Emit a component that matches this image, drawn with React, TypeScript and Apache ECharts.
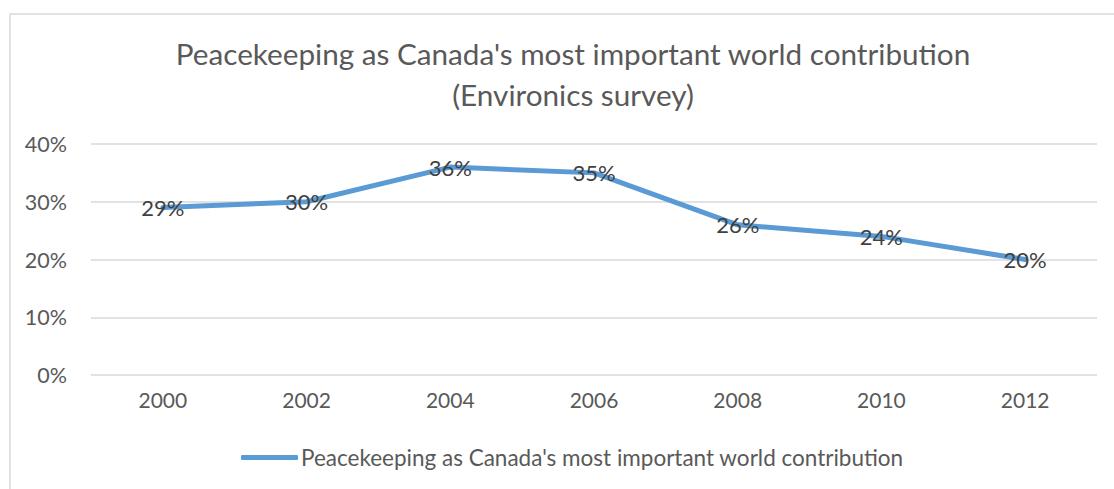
import React, { useEffect, useRef } from "react";
import * as echarts from "echarts";

const years = ["2000", "2002", "2004", "2006", "2008", "2010", "2012"];
const shares = [29, 30, 36, 35, 26, 24, 20];
const seriesName = "Peacekeeping as Canada's most important world contribution";
const titleLines = ["Peacekeeping as Canada's most important world contribution", "(Environics survey)"];

const FONT = "Lato, 'Open Sans', sans-serif";

export default function App() {
  const ref = useRef<HTMLDivElement>(null);

  useEffect(() => {
    if (!ref.current) return;
    const chart = echarts.init(ref.current, null, { renderer: "svg" });
    chart.setOption({
      animation: false,
      backgroundColor: "#ffffff",
      textStyle: { fontFamily: FONT },
      graphic: [
        {
          type: "rect",
          shape: { x: 10, y: 14, width: 1300, height: 700 },
          style: { fill: "none", stroke: "#d9d9d9", lineWidth: 1.5 },
          silent: true,
          z: -1,
        },
      ],
      title: {
        text: titleLines.join("\n"),
        left: 568,
        textAlign: "center",
        top: 28,
        textStyle: {
          fontFamily: FONT,
          fontSize: 29.7,
          fontWeight: "normal",
          color: "#595959",
          lineHeight: 41,
        },
      },
      legend: {
        bottom: 15,
        left: 236,
        padding: 5,
        itemWidth: 57,
        itemHeight: 5,
        itemGap: 10,
        textStyle: { fontFamily: FONT, fontSize: 22.5, color: "#595959", padding: [0, 0, 0, -2] },
        data: [{ name: seriesName, icon: "roundRect" }],
      },
      grid: { left: 91, right: 17, top: 144, bottom: 114, containLabel: false },
      xAxis: {
        type: "category",
        data: years,
        boundaryGap: true,
        axisLine: { show: false },
        axisTick: { show: false },
        axisLabel: { fontFamily: FONT, fontSize: 21, color: "#595959", margin: 14 },
      },
      yAxis: {
        type: "value",
        min: 0,
        max: 40,
        interval: 10,
        axisLine: { show: false },
        axisTick: { show: false },
        splitLine: { lineStyle: { color: "#d9d9d9", width: 1.5 } },
        axisLabel: {
          fontFamily: FONT,
          fontSize: 21.5,
          color: "#595959",
          margin: 24,
          formatter: "{value}%",
        },
      },
      series: [
        {
          name: seriesName,
          type: "line",
          data: shares,
          symbol: "circle",
          symbolSize: 0,
          showSymbol: true,
          lineStyle: { color: "#5b9bd5", width: 5, cap: "round", join: "round" },
          itemStyle: { color: "#5b9bd5" },
          label: {
            show: true,
            position: "inside",
            formatter: "{c}%",
            fontFamily: FONT,
            fontSize: 22,
            color: "#404040",
          },
        },
      ],
    });
    return () => chart.dispose();
  }, []);

  return (
    <div
      ref={ref}
      style={{ position: "fixed", left: 0, top: 0, width: 1114, height: 489 }}
    />
  );
}
